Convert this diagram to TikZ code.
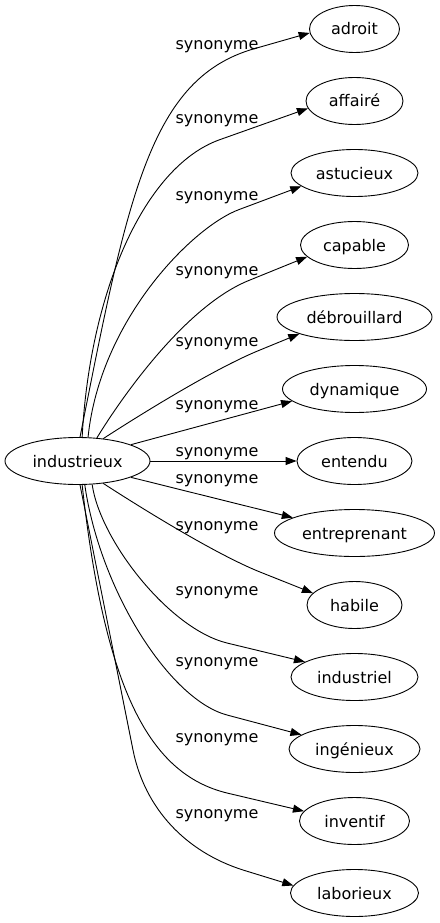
\documentclass[tikz,border=0pt]{standalone}
\usepackage{fontspec}
\setmainfont{DejaVu Sans}
\usetikzlibrary{arrows.meta,shapes.geometric}
\begin{document}
\begin{tikzpicture}[x=1pt,y=-1pt,
  word/.style={draw, ellipse, line width=0.9pt, minimum height=47pt, inner sep=0pt,
    font=\fontsize{16}{19}\selectfont, text height=12pt, text depth=0pt},
  rel/.style={font=\fontsize{16}{19}\selectfont, anchor=base, inner sep=0pt},
  link/.style={line width=0.9pt, -{Triangle[length=11pt,width=8pt]}}]
\useasboundingbox (0,0) rectangle (439,923);
\node[word, minimum width=145pt] (ind) at (77.5,461) {industrieux};
\node[word, minimum width=90pt]  (adroit)       at (354.5,29)  {adroit};
\node[word, minimum width=97pt]  (affaire)      at (354.5,101) {affairé};
\node[word, minimum width=127pt] (astucieux)    at (354.5,173) {astucieux};
\node[word, minimum width=108pt] (capable)      at (354.5,245) {capable};
\node[word, minimum width=155pt] (debrouillard) at (354.5,317) {débrouillard};
\node[word, minimum width=144pt] (dynamique)    at (354.5,389) {dynamique};
\node[word, minimum width=115pt] (entendu)      at (354.5,461) {entendu};
\node[word, minimum width=160pt] (entreprenant) at (354.5,533) {entreprenant};
\node[word, minimum width=95pt]  (habile)       at (354.5,605) {habile};
\node[word, minimum width=127pt] (industriel)   at (354.5,677) {industriel};
\node[word, minimum width=131pt] (ingenieux)    at (354.5,749) {ingénieux};
\node[word, minimum width=110pt] (inventif)     at (354.5,821) {inventif};
\node[word, minimum width=128pt] (laborieux)    at (354.5,893) {laborieux};

\node[rel] (l1)  at (217,49.5)  {synonyme};
\node[rel] (l2)  at (217,124)   {synonyme};
\node[rel] (l3)  at (217,200)   {synonyme};
\node[rel] (l4)  at (217,275.7) {synonyme};
\node[rel] (l5)  at (217,346.7) {synonyme};
\node[rel] (l6)  at (217,409.3) {synonyme};
\node[rel] (l7)  at (217,456.5) {synonyme};
\node[rel] (l8)  at (217,483.3) {synonyme};
\node[rel] (l9)  at (217,530.7) {synonyme};
\node[rel] (l10) at (217,595)   {synonyme};
\node[rel] (l11) at (217,666.7) {synonyme};
\node[rel] (l12) at (217,742.7) {synonyme};
\node[rel] (l13) at (217,818.3) {synonyme};

\draw[link] (ind.84) .. controls (128,195) and (150,78) .. (255,48.5) -- (adroit.185.5);
\draw[link] (ind.79) .. controls (90,290) and (145,166) .. (220,139.6) -- (affaire.189);
\draw[link] (ind.66) .. controls (100,320) and (193,226) .. (240,209.2) -- (astucieux.194.7);
\draw[link] (ind.50) .. controls (120,400) and (185,305.5) .. (250,280) -- (capable.194.8);
\draw[link] (ind.41) .. controls (135,418) and (213.6,368.7) .. (260,350) -- (debrouillard.197.3);
\draw[link] (ind.17) -- (dynamique.191.7);
\draw[link] (ind) -- (entendu);
\draw[link] (ind.-17) -- (entreprenant.166.5);
\draw[link] (ind.-41) .. controls (135,504) and (213.6,553.4) .. (260,572) -- (habile.164.3);
\draw[link] (ind.-58) .. controls (100,540) and (168.8,628.7) .. (227,643) -- (industriel.163.2);
\draw[link] (ind.-73) .. controls (100,590) and (169,699.4) .. (227,715) -- (ingenieux.165.3);
\draw[link] (ind.-79) .. controls (105,690) and (149.3,774) .. (227,793) -- (inventif.169.6);
\draw[link] (ind.-84) -- (133,750) .. controls (144.8,808.8) and (185.8,851.8) .. (243,870) -- (laborieux.173.5);
\end{tikzpicture}
\end{document}
